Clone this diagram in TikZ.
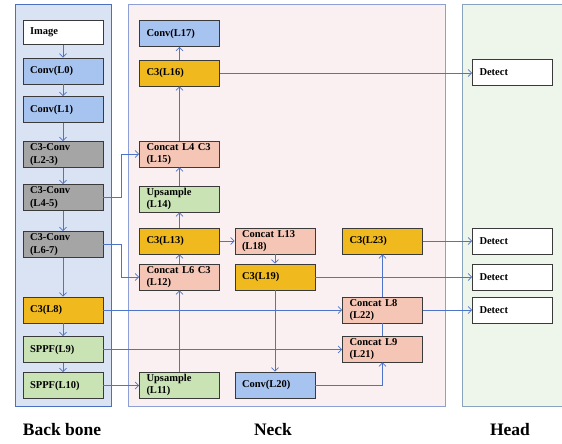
\documentclass[tikz,border=0pt]{standalone}
\usepackage{fontspec}
\setmainfont{Liberation Serif}
\usepackage{tikz}
\usetikzlibrary{arrows.meta}
\definecolor{bbfill}{HTML}{DAE3F3}
\definecolor{bbline}{HTML}{4A70C0}
\definecolor{nkfill}{HTML}{FBF0F1}
\definecolor{nkline}{HTML}{8E9FD6}
\definecolor{hdfill}{HTML}{EEF5EA}
\definecolor{hdline}{HTML}{89A2BE}
\definecolor{myblue}{HTML}{A7C3F0}
\definecolor{mygray}{HTML}{A5A5A5}
\definecolor{mygold}{HTML}{F0BA1E}
\definecolor{mypink}{HTML}{F5C6B5}
\definecolor{mygreen}{HTML}{C9E3B5}
\definecolor{boxline}{HTML}{3A3A3A}
\definecolor{arrowc}{HTML}{4D74C9}

\begin{document}
\begin{tikzpicture}[x=1pt,y=-1pt,>={Straight Barb[length=3.5pt,width=7pt]},
  blk/.style={draw=boxline,line width=0.7pt,text width=66pt,inner xsep=7pt,
    inner ysep=1pt,minimum height=26pt,align=left,
    font=\bfseries\fontsize{10.5}{12.5}\selectfont},
  link/.style={draw=arrowc,line width=0.8pt},
  part/.style={font=\bfseries\fontsize{17.5}{20}\selectfont}]

\useasboundingbox (0,0) rectangle (562,444);

% panels
\filldraw[fill=bbfill,draw=bbline,line width=0.8pt] (15,4) rectangle (111,406);
\filldraw[fill=nkfill,draw=nkline,line width=0.8pt] (128,4) rectangle (445,406);
\filldraw[fill=hdfill,draw=hdline,line width=0.8pt] (462,4) rectangle (568,406);

% backbone
\node[blk,fill=white,minimum height=24pt] (img) at (63,32.5) {Image};
\node[blk,fill=myblue] (l0) at (63,71) {Conv(L0)};
\node[blk,fill=myblue] (l1) at (63,109.5) {Conv(L1)};
\node[blk,fill=mygray] (l23) at (63,154.5) {C3-Conv\\(L2-3)};
\node[blk,fill=mygray] (l45) at (63,197.5) {C3-Conv\\(L4-5)};
\node[blk,fill=mygray] (l67) at (63,244.5) {C3-Conv\\(L6-7)};
\node[blk,fill=mygold] (l8) at (63,310) {C3(L8)};
\node[blk,fill=mygreen] (l9) at (63,349.5) {SPPF(L9)};
\node[blk,fill=mygreen] (l10) at (63,385.5) {SPPF(L10)};

% neck
\node[blk,fill=myblue] (l17) at (179.5,33.5) {Conv(L17)};
\node[blk,fill=mygold] (l16) at (179.5,73) {C3(L16)};
\node[blk,fill=mypink] (l15) at (179.5,154) {Concat L4 C3\\(L15)};
\node[blk,fill=mygreen] (l14) at (179.5,199) {Upsample\\(L14)};
\node[blk,fill=mygold] (l13) at (179.5,241) {C3(L13)};
\node[blk,fill=mypink] (l12) at (179.5,277) {Concat L6 C3\\(L12)};
\node[blk,fill=mygreen] (l11) at (179.5,385) {Upsample\\(L11)};

\node[blk,fill=mypink] (l18) at (275,241) {Concat L13\\(L18)};
\node[blk,fill=mygold] (l19) at (275,277) {C3(L19)};
\node[blk,fill=myblue] (l20) at (275,385) {Conv(L20)};

\node[blk,fill=mygold] (l23n) at (382.5,241) {C3(L23)};
\node[blk,fill=mypink] (l22) at (382.5,310) {Concat L8\\(L22)};
\node[blk,fill=mypink] (l21) at (382.5,349) {Concat L9\\(L21)};

% head
\node[blk,fill=white] (d1) at (512.5,72) {Detect};
\node[blk,fill=white] (d2) at (512.5,241) {Detect};
\node[blk,fill=white] (d3) at (512.5,277) {Detect};
\node[blk,fill=white] (d4) at (512.5,310) {Detect};

% titles
\node[part] (tbb) at (62,430) {Back bone};
\node[part] (tnk) at (273,430) {Neck};
\node[part] (thd) at (510,430) {Head};

% backbone chain
\foreach \a/\b in {img/l0,l0/l1,l1/l23,l23/l45,l45/l67,l67/l8,l8/l9,l9/l10}
  \draw[link,->] (\a) -- (\b);

% neck chain
\foreach \a/\b in {l11/l12,l12/l13,l13/l14,l14/l15,l15/l16,l16/l17}
  \draw[link,->] (\a) -- (\b);

\draw[link,->] (l45.east) -- ++(18,0) |- (l15.west);
\draw[link,->] (l67.east) -- ++(18,0) |- (l12.west);
\draw[link,->] (l8.east) -- (l22.west);
\draw[link,->] (l9.east) -- (l9.east -| l21.west);
\draw[link,->] (l10.east) -- (l10.east -| l11.west);
\draw[link,->] (l13) -- (l18);
\draw[link,->] (l18) -- (l19);
\draw[link,->] (l19) -- (l20);
\draw[link,->] (l20.east) -| (l21.south);
\draw[link] (l21) -- (l22);
\draw[link,->] (l22) -- (l23n);

\draw[link,->] (l16.east) -- (l16.east -| d1.west);
\draw[link,->] (l23n) -- (d2);
\draw[link,->] (l19) -- (d3);
\draw[link,->] (l22) -- (d4);
\end{tikzpicture}
\end{document}
